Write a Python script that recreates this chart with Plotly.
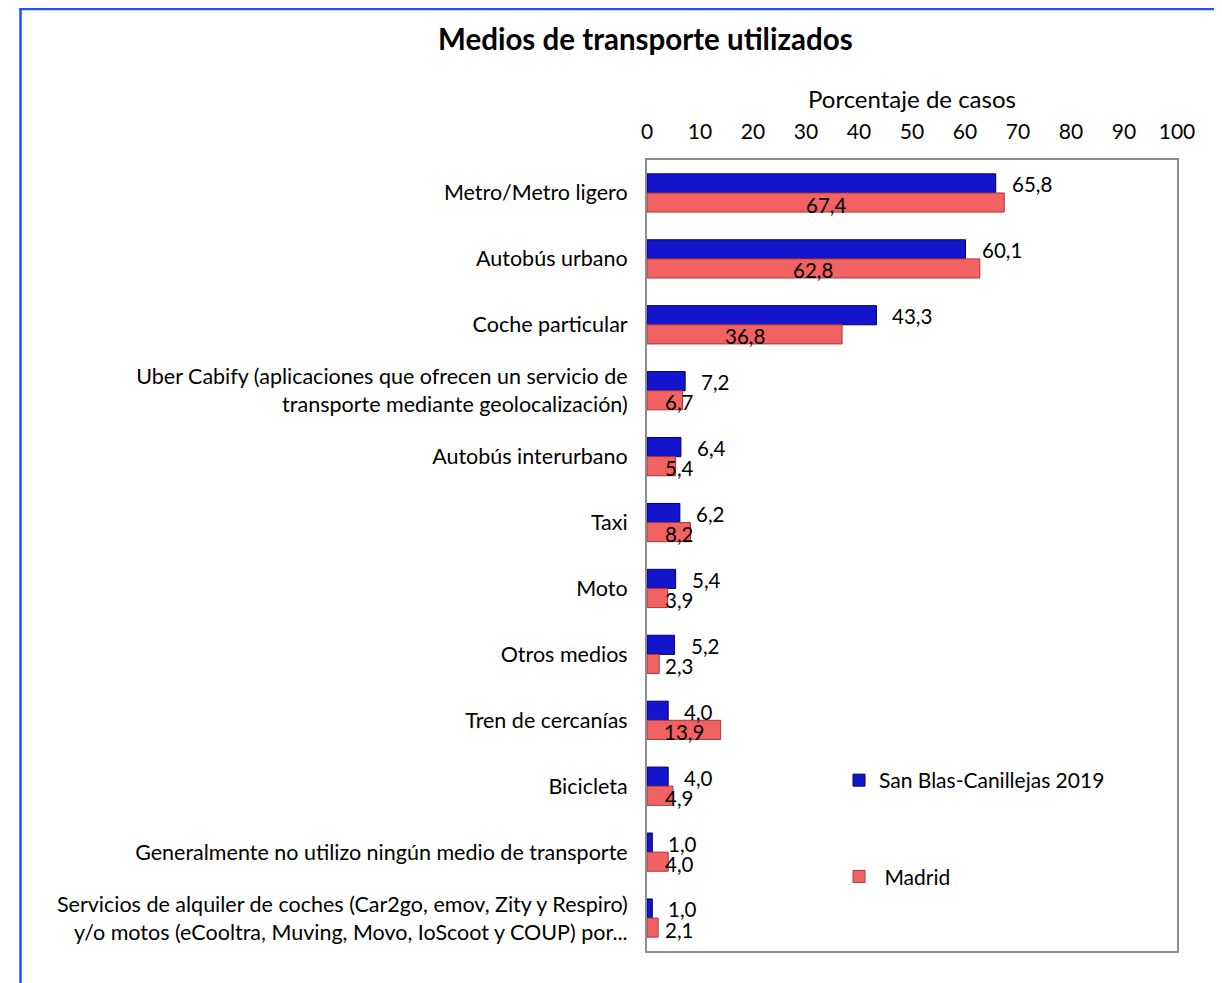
import plotly.graph_objects as go

categories = [
    "Metro/Metro ligero",
    "Autobús urbano",
    "Coche particular",
    "Uber Cabify (aplicaciones que ofrecen un servicio de<br>transporte mediante geolocalización)",
    "Autobús interurbano",
    "Taxi",
    "Moto",
    "Otros medios",
    "Tren de cercanías",
    "Bicicleta",
    "Generalmente no utilizo ningún medio de transporte",
    "Servicios de alquiler de coches (Car2go, emov, Zity y Respiro)<br>y/o motos (eCooltra, Muving, Movo, IoScoot y COUP) por...",
]
san_blas = [65.8, 60.1, 43.3, 7.2, 6.4, 6.2, 5.4, 5.2, 4.0, 4.0, 1.0, 1.0]
madrid = [67.4, 62.8, 36.8, 6.7, 5.4, 8.2, 3.9, 2.3, 13.9, 4.9, 4.0, 2.1]
x_ticks = [0, 10, 20, 30, 40, 50, 60, 70, 80, 90, 100]

FONT = "Lato"
# the page body adds an 8px margin, so the figure is 8px smaller than the window
W, H = 1214, 975
L, R, T, B = 639, 45, 152, 32
PW, PH = W - L - R, H - T - B


def px_x(fx):
    return (fx - L) / PW


def px_y(fy):
    return (H - B - fy) / PH


pos = list(range(len(categories)))
off = 0.145
bw = 0.29

fig = go.Figure()
fig.add_trace(go.Bar(
    y=[p - off for p in pos], x=san_blas, orientation="h", width=bw,
    name="San Blas-Canillejas 2019", legendgroup="a",
    marker=dict(color="#1414CC", line=dict(color="#00006A", width=1)),
))
fig.add_trace(go.Bar(
    y=[p + off for p in pos], x=madrid, orientation="h", width=bw,
    name=" Madrid", legendgroup="b",
    marker=dict(color="#F26262", line=dict(color="#A03A3A", width=1)),
))


def fmt(v):
    return f"{v:.1f}".replace(".", ",")


LBL = 20.5
annotations = []
px_per_unit = PW / 100.0
for p, v in zip(pos, san_blas):
    annotations.append(dict(x=v, y=p - off, xref="x", yref="y", text=fmt(v),
                            showarrow=False, xanchor="left", xshift=14, yshift=-1,
                            font=dict(family=FONT, size=LBL, color="#000")))
for p, v in zip(pos, madrid):
    half_px = v / 2 * px_per_unit
    if half_px >= 36:
        a = dict(x=v / 2, xanchor="center", xshift=0)
    else:
        a = dict(x=0, xanchor="left", xshift=16)
    a.update(y=p + off, xref="x", yref="y", text=fmt(v), showarrow=False, yshift=-2,
             font=dict(family=FONT, size=LBL, color="#000"))
    annotations.append(a)

annotations.append(dict(x=px_x(637), y=px_y(31), xref="paper", yref="paper",
                        text="<b>Medios de transporte utilizados</b>", showarrow=False,
                        xanchor="center", yanchor="middle",
                        font=dict(family=FONT, size=29.5, color="#000")))
annotations.append(dict(x=0.5, y=px_y(91), xref="paper", yref="paper", text="Porcentaje de casos",
                        showarrow=False, xanchor="center", yanchor="middle",
                        font=dict(family=FONT, size=24, color="#000")))

fig.update_layout(
    width=W, height=H,
    margin=dict(l=L, r=R, t=T, b=B, autoexpand=False),
    paper_bgcolor="white", plot_bgcolor="white",
    font=dict(family=FONT, size=21, color="#000"),
    barmode="overlay",
    showlegend=True,
    legend=dict(x=px_x(831), y=px_y(752), xanchor="left", yanchor="top",
                tracegroupgap=66, traceorder="grouped", bgcolor="rgba(0,0,0,0)",
                font=dict(family=FONT, size=21, color="#000"), itemwidth=30),
    annotations=annotations,
    shapes=[dict(type="rect", xref="paper", yref="paper",
                 x0=px_x(12.5), x1=px_x(1240),
                 y0=px_y(1000), y1=px_y(1),
                 line=dict(color="#1F4FFF", width=2.5), fillcolor="rgba(0,0,0,0)", layer="below")],
)
fig.update_xaxes(range=[0, 100], side="top", tickvals=x_ticks, ticktext=[str(t) for t in x_ticks],
                 showgrid=False, zeroline=False, showline=True, mirror=True,
                 linecolor="#8C8C8C", linewidth=2, ticks="", ticklabelstandoff=11,
                 tickfont=dict(family=FONT, size=21, color="#000"), fixedrange=True)
fig.update_yaxes(range=[len(categories) - 0.5, -0.5], tickvals=pos, ticktext=categories,
                 showgrid=False, zeroline=False, showline=True, mirror=True,
                 linecolor="#8C8C8C", linewidth=2, ticks="", ticklabelstandoff=13,
                 tickfont=dict(family=FONT, size=21.5, color="#000"), fixedrange=True)

fig.write_html("out.html")
